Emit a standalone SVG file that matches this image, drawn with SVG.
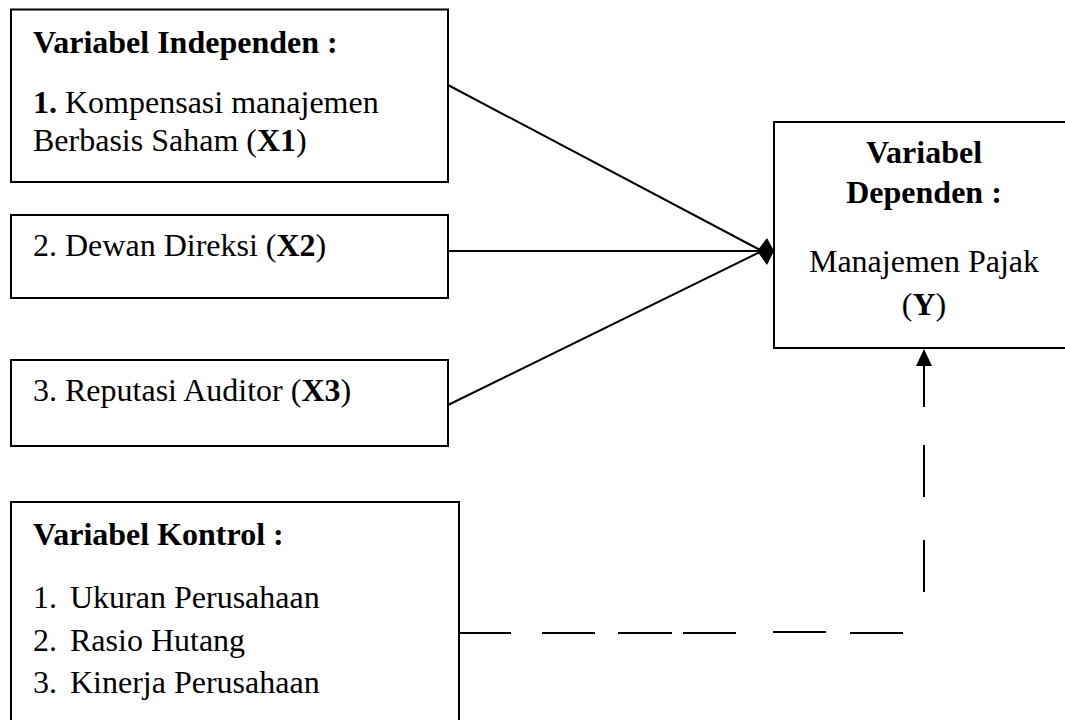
<svg xmlns="http://www.w3.org/2000/svg" width="1065" height="720" viewBox="0 0 1065 720">
<style>
.box{fill:#fff;stroke:#000;stroke-width:2}
.t{font-family:"Liberation Serif","Times New Roman",serif;font-size:32px;fill:#000}
.b{font-weight:bold}
.c{stroke:#000;stroke-width:2;fill:none}
</style>
<rect width="1065" height="720" fill="#fff"/>
<g id="x1">
<rect class="box" x="11" y="9.5" width="437" height="172.5"/>
<text class="t b" x="33" y="53">Variabel Independen :</text>
<text class="t" x="33" y="113"><tspan class="b">1.</tspan> Kompensasi manajemen</text>
<text class="t" x="33" y="151">Berbasis Saham (<tspan class="b">X1</tspan>)</text>
</g>
<g id="x2">
<rect class="box" x="11" y="215" width="437" height="83"/>
<text class="t" x="33" y="256">2. Dewan Direksi (<tspan class="b">X2</tspan>)</text>
</g>
<g id="x3">
<rect class="box" x="11" y="360" width="437" height="86"/>
<text class="t" x="33" y="401">3. Reputasi Auditor (<tspan class="b">X3</tspan>)</text>
</g>
<g id="y">
<rect class="box" x="774" y="122" width="300" height="226"/>
<text class="t b" x="924" y="163" text-anchor="middle">Variabel</text>
<text class="t b" x="924" y="203" text-anchor="middle">Dependen :</text>
<text class="t" x="924" y="272" text-anchor="middle">Manajemen Pajak</text>
<text class="t" x="924" y="315" text-anchor="middle">(<tspan class="b">Y</tspan>)</text>
</g>
<g id="kontrol">
<rect class="box" x="11" y="502" width="448" height="240"/>
<text class="t b" x="33" y="545">Variabel Kontrol :</text>
<text class="t" x="33" y="608">1.</text><text class="t" x="70" y="608">Ukuran Perusahaan</text>
<text class="t" x="33" y="651">2.</text><text class="t" x="70" y="651">Rasio Hutang</text>
<text class="t" x="33" y="693">3.</text><text class="t" x="70" y="693">Kinerja Perusahaan</text>
</g>
<g id="connectors">
<line class="c" x1="448" y1="85" x2="762" y2="251"/>
<line class="c" x1="448" y1="251" x2="762" y2="251"/>
<line class="c" x1="448" y1="405" x2="762" y2="251"/>
<polygon points="757,251 767,238 774,251 767,265" fill="#000"/>
<line class="c" x1="924" y1="407" x2="924" y2="362"/>
<polygon points="924,349 932,366 916,366" fill="#000"/>
<line class="c" x1="924" y1="445" x2="924" y2="497"/>
<line class="c" x1="924" y1="540" x2="924" y2="592"/>
<line class="c" x1="459" y1="633" x2="511" y2="633"/>
<line class="c" x1="542" y1="633" x2="595" y2="633"/>
<line class="c" x1="618" y1="633" x2="672" y2="633"/>
<line class="c" x1="683" y1="633" x2="736" y2="633"/>
<line class="c" x1="773" y1="632" x2="826" y2="632"/>
<line class="c" x1="850" y1="633" x2="903" y2="633"/>
</g>
</svg>
